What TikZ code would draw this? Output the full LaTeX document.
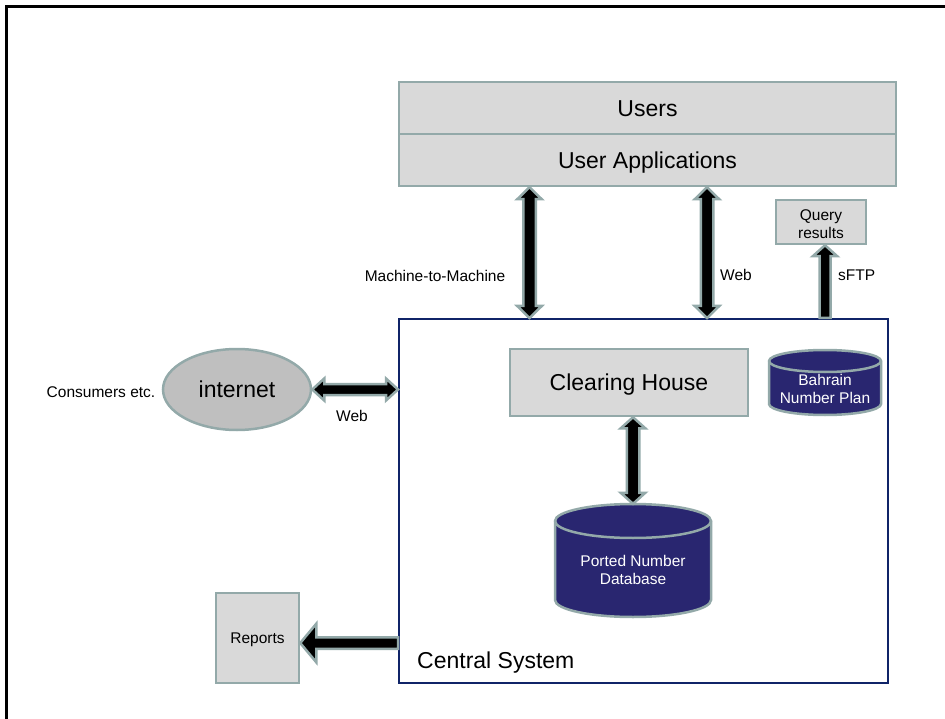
\documentclass[tikz,border=0pt]{standalone}
\usepackage{fontspec}
\setmainfont{Liberation Sans}
\usetikzlibrary{calc,shapes.geometric}
\definecolor{boxfill}{RGB}{217,217,217}
\definecolor{boxline}{RGB}{147,169,169}
\definecolor{netfill}{RGB}{191,191,191}
\definecolor{dbnavy}{RGB}{41,38,112}
\definecolor{csnavy}{RGB}{16,36,104}
\newcommand\drawdbcyl[5]{%
  \filldraw[dbcyl] ({#1-#4},{#2+#5}) -- ({#1-#4},{#3-#5})
    arc[start angle=180,end angle=360,x radius=#4pt,y radius=#5pt]
    -- ({#1+#4},{#2+#5})
    arc[start angle=0,end angle=180,x radius=#4pt,y radius=#5pt] -- cycle;
  \draw[dbcyl, fill=none] ({#1-#4},{#2+#5})
    arc[start angle=180,end angle=360,x radius=#4pt,y radius=#5pt];
}
\tikzset{
  graybox/.style={draw=boxline, fill=boxfill, line width=2.5pt, inner sep=0pt, align=center},
  bigtext/.style={font=\fontsize{23}{27}\selectfont, text height=16.5pt, text depth=0pt},
  smalltext/.style={font=\fontsize{15.5}{18.5}\selectfont, align=center, inner sep=0pt},
  onelinesmall/.style={smalltext, text height=11pt, text depth=0pt},
  dbtext/.style={smalltext, text=white},
  dbcyl/.style={draw=boxline, fill=dbnavy, line width=2.5pt},
  cylbox/.style={rectangle, inner sep=0pt, draw=none},
  arrowpoly/.style={draw=boxline, fill=black, line width=2.5pt, line join=miter},
  fatsingle/.style n args={3}{arrowpoly, to path={
    ($(\tikztostart)!#1!90:(\tikztotarget)$)
    -- ($(\tikztotarget)!#3!(\tikztostart)!#1!-90:(\tikztostart)$)
    -- ($(\tikztotarget)!#3!(\tikztostart)!#2!-90:(\tikztostart)$)
    -- (\tikztotarget)
    -- ($(\tikztotarget)!#3!(\tikztostart)!#2!90:(\tikztostart)$)
    -- ($(\tikztotarget)!#3!(\tikztostart)!#1!90:(\tikztostart)$)
    -- ($(\tikztostart)!#1!-90:(\tikztotarget)$) -- cycle}},
  fatdouble/.style n args={3}{arrowpoly, to path={
    (\tikztostart)
    -- ($(\tikztostart)!#3!(\tikztotarget)!#2!90:(\tikztotarget)$)
    -- ($(\tikztostart)!#3!(\tikztotarget)!#1!90:(\tikztotarget)$)
    -- ($(\tikztotarget)!#3!(\tikztostart)!#1!-90:(\tikztostart)$)
    -- ($(\tikztotarget)!#3!(\tikztostart)!#2!-90:(\tikztostart)$)
    -- (\tikztotarget)
    -- ($(\tikztotarget)!#3!(\tikztostart)!#2!90:(\tikztostart)$)
    -- ($(\tikztotarget)!#3!(\tikztostart)!#1!90:(\tikztostart)$)
    -- ($(\tikztostart)!#3!(\tikztotarget)!#1!-90:(\tikztotarget)$)
    -- ($(\tikztostart)!#3!(\tikztotarget)!#2!-90:(\tikztotarget)$)
    -- cycle}},
}
\begin{document}
\begin{tikzpicture}[x=1pt,y=-1pt]
\useasboundingbox (0,0) rectangle (945,719);
% outer frame
\draw[line width=3pt, line cap=rect] (6.5,719) -- (6.5,6.5) -- (945,6.5);

% Users / User Applications
\node[graybox, bigtext, minimum width=497pt, minimum height=52pt] (users) at (647.5,108) {Users};
\node[graybox, bigtext, minimum width=497pt, minimum height=52pt] (apps) at (647.5,160) {User Applications};

% Query results
\node[graybox, minimum width=90pt, minimum height=44pt] (query) at (821,222) {};
\node[smalltext] (querytext) at (821,224) {Query\\results};

% Central system
\node[draw=csnavy, line width=2pt, fill=white, minimum width=489pt, minimum height=364pt, inner sep=0pt] (cs) at (643.5,501) {};
\node[bigtext, anchor=west, inner sep=0pt] (cslabel) at (417,660) {Central System};

% Clearing house
\node[graybox, bigtext, minimum width=238pt, minimum height=67pt] (ch) at (629,382.5) {Clearing House};

% Bahrain Number Plan cylinder
\drawdbcyl{825}{350}{415}{56}{11}
\node[cylbox, minimum width=112pt, minimum height=65pt] (bnp) at (825,382.5) {};
\node[dbtext] (bnptext) at (825,389) {Bahrain\\Number Plan};

% Ported Number Database cylinder
\drawdbcyl{633}{504}{617}{78}{17}
\node[cylbox, minimum width=156pt, minimum height=113pt] (pnd) at (633,560.5) {};
\node[dbtext] (pndtext) at (633,570) {Ported Number\\Database};

% internet
\node[ellipse, draw=boxline, fill=netfill, line width=2.5pt, minimum width=148pt, minimum height=81pt, inner sep=0pt, bigtext] (net) at (237,389.5) {internet};
\node[onelinesmall] (consumers) at (101,392) {Consumers etc.};

% Reports
\node[graybox, onelinesmall, minimum width=83pt, minimum height=90pt] (reports) at (257.5,638) {Reports};

% connector end points
\coordinate (m2mx) at (529.5,0);
\coordinate (webx) at (707,0);
\coordinate (sftpx) at (825,0);
\coordinate (m2mtop) at (apps.south -| m2mx);
\coordinate (m2mbot) at (cs.north -| m2mx);
\coordinate (webtop) at (apps.south -| webx);
\coordinate (webbot) at (cs.north -| webx);
\coordinate (sftpbot) at (cs.north -| sftpx);
\coordinate (sftptop) at (query.south -| sftpx);
\coordinate (repy) at (0,643);
\coordinate (chx) at (633,0);
\coordinate (netright) at (net.east);
\coordinate (csleftnet) at (cs.west |- net.east);
\coordinate (csleftrep) at (cs.west |- repy);
\coordinate (repright) at (reports.east |- repy);
\coordinate (chbot) at (ch.south -| chx);

% connectors
\draw[fatdouble={6.25pt}{12.25pt}{12pt}] (m2mtop) to (m2mbot);
\draw[fatdouble={6.25pt}{12.25pt}{12pt}] (webtop) to (webbot);
\draw[fatsingle={5.5pt}{12.25pt}{11pt}] (sftpbot) to (sftptop);
\draw[fatdouble={6.25pt}{12.25pt}{11pt}] (chbot) to (pnd.north);
\draw[fatdouble={5.5pt}{11pt}{12pt}] (netright) to (csleftnet);
\draw[fatsingle={5.75pt}{19.25pt}{16pt}] (csleftrep) to (repright);

% labels
\node[onelinesmall] (m2mlabel) at (435,276) {Machine-to-Machine};
\node[onelinesmall, anchor=west] (weblabel) at (720,275) {Web};
\node[onelinesmall, anchor=west] (sftplabel) at (838,275) {sFTP};
\node[onelinesmall] (netweblabel) at (352,416) {Web};
\end{tikzpicture}
\end{document}
